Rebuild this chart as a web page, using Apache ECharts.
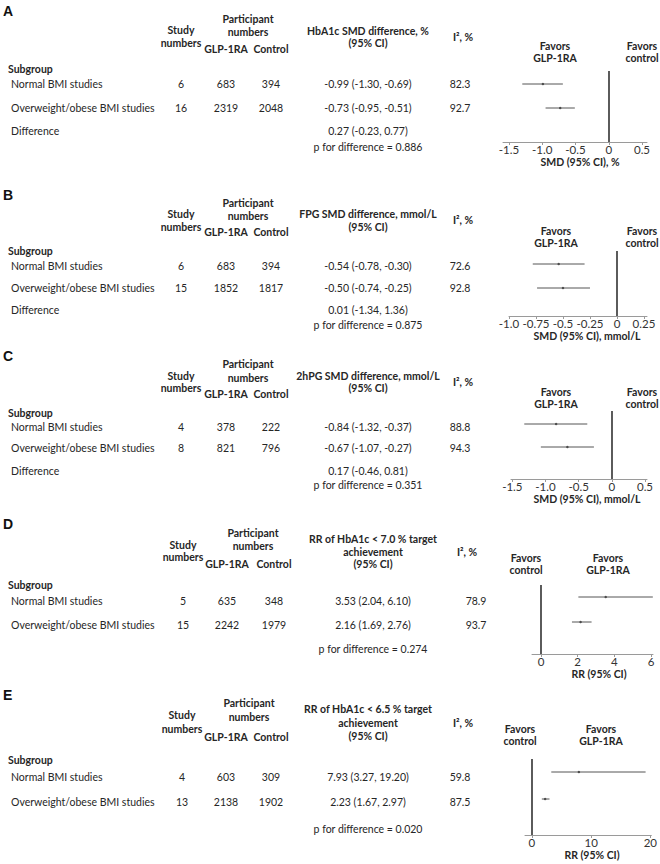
<!DOCTYPE html>
<html><head><meta charset="utf-8">
<script src="https://cdn.jsdelivr.net/npm/echarts@6/dist/echarts.min.js"></script>
<style>html,body{margin:0;padding:0;background:#fff}#c{width:660px;height:864px}</style>
</head><body><div id="c"></div>
<script>
// ---------------- DATA ----------------
const panelLetters = ['A', 'B', 'C', 'D', 'E'];
const subgroupRows = ['Normal BMI studies', 'Overweight/obese BMI studies'];
const outcomeHeaders = [
  ['HbA1c SMD difference, %', '(95% CI)'],
  ['FPG SMD difference, mmol/L', '(95% CI)'],
  ['2hPG SMD difference, mmol/L', '(95% CI)'],
  ['RR of HbA1c < 7.0 % target', 'achievement', '(95% CI)'],
  ['RR of HbA1c < 6.5 % target', 'achievement', '(95% CI)']
];
const studyNumbers = [[6, 16], [6, 15], [4, 8], [5, 15], [4, 13]];
const glpNumbers = [[683, 2319], [683, 1852], [378, 821], [635, 2242], [603, 2138]];
const controlNumbers = [[394, 2048], [394, 1817], [222, 796], [348, 1979], [309, 1902]];
const estimates = [[-0.99, -0.73], [-0.54, -0.50], [-0.84, -0.67], [3.53, 2.16], [7.93, 2.23]];
const lowerCI = [[-1.30, -0.95], [-0.78, -0.74], [-1.32, -1.07], [2.04, 1.69], [3.27, 1.67]];
const upperCI = [[-0.69, -0.51], [-0.30, -0.25], [-0.37, -0.27], [6.10, 2.76], [19.20, 2.97]];
const i2Values = [[82.3, 92.7], [72.6, 92.8], [88.8, 94.3], [78.9, 93.7], [59.8, 87.5]];
const diffEstimate = [0.27, 0.01, 0.17, null, null];
const diffLower = [-0.23, -1.34, -0.46, null, null];
const diffUpper = [0.77, 1.36, 0.81, null, null];
const pValues = ['0.886', '0.875', '0.351', '0.274', '0.020'];
const tickValues = [[-1.5, -1.0, -0.5, 0, 0.5], [-1.0, -0.75, -0.5, -0.25, 0, 0.25], [-1.5, -1.0, -0.5, 0, 0.5], [0, 2, 4, 6], [0, 10, 20]];
const tickLabels = [['-1.5', '-1.0', '-0.5', '0', '0.5'], ['-1.0', '-0.75', '-0.5', '-0.25', '0', '0.25'], ['-1.5', '-1.0', '-0.5', '0', '0.5'], ['0', '2', '4', '6'], ['0', '10', '20']];
const axisTitles = ['SMD (95% CI), %', 'SMD (95% CI), mmol/L', 'SMD (95% CI), mmol/L', 'RR (95% CI)', 'RR (95% CI)'];
const favorsLeft = ['Favors\nGLP-1RA', 'Favors\nGLP-1RA', 'Favors\nGLP-1RA', 'Favors\ncontrol', 'Favors\ncontrol'];
const favorsRight = ['Favors\ncontrol', 'Favors\ncontrol', 'Favors\ncontrol', 'Favors\nGLP-1RA', 'Favors\nGLP-1RA'];

// ---------------- LAYOUT (positions & styles only) ----------------
const colsABC = { study: 181, glp: 226, ctrl: 271, est: 368, i2: 460, i2head: 463, part: 248 };
const colsD = { study: 183, glp: 227, ctrl: 274, est: 373, i2: 476, i2head: 467, part: 253 };
const colsE = { study: 182, glp: 226, ctrl: 271, est: 368, i2: 460, i2head: 463, part: 249 };
const layout = [
  { letterY: 11, partY: [19, 32], studyY: [30, 43], colHeadY: 49, outY: [31, 43], i2Y: 37, subY: 69, rowY: [84, 108], diffY: 131, pY: 147, cols: colsABC,
    grid: { left: 503, width: 144, top: 71, axisY: 142 }, plotRows: [84, 108], min: -1.59, max: 0.575, favY: 46, favX: [555, 642], titleX: 580, titleY: 162 },
  { letterY: 195, partY: [203, 216], studyY: [214, 227], colHeadY: 232, outY: [214, 227], i2Y: 220, subY: 251, rowY: [266, 288], diffY: 310, pY: 325, cols: colsABC,
    grid: { left: 509, width: 138, top: 251, axisY: 316 }, plotRows: [264, 288], min: -1.0, max: 0.278, favY: 231, favX: [556, 642], titleX: 587, titleY: 336 },
  { letterY: 356, partY: [364, 378], studyY: [376, 388], colHeadY: 394, outY: [376, 388], i2Y: 382, subY: 413, rowY: [427, 448], diffY: 471, pY: 485, cols: colsABC,
    grid: { left: 511, width: 136, top: 411, axisY: 479 }, plotRows: [424, 447], min: -1.52, max: 0.53, favY: 392, favX: [556, 642], titleX: 587, titleY: 499 },
  { letterY: 524, partY: [533, 546], studyY: [545, 557], colHeadY: 564, outY: [539, 552, 564], i2Y: 552, subY: 585, rowY: [601, 625], diffY: null, pY: 649, cols: colsD,
    grid: { left: 532, width: 121, top: 585, axisY: 654 }, plotRows: [597, 622], min: -0.49, max: 6.11, favY: 558, favX: [526, 608], titleX: 599, titleY: 674 },
  { letterY: 695, partY: [703, 717], studyY: [715, 729], colHeadY: 737, outY: [709, 723, 736], i2Y: 723, subY: 760, rowY: [777, 802], diffY: null, pY: 829, cols: colsE,
    grid: { left: 525, width: 128, top: 759, axisY: 835 }, plotRows: [772, 799], min: -1.17, max: 20.17, favY: 729, favX: [520, 601], titleX: 592, titleY: 855 }
];

const FAM = 'Lato, "Open Sans", sans-serif';
const TXT = '#262626';
const fs = 10.5;

function txt(x, y, s, opts) {
  opts = opts || {};
  const align = opts.align || 'center';
  return {
    type: 'text', x: x, y: y, silent: true,
    style: {
      text: s, fill: opts.color || TXT,
      font: (opts.bold ? 'bold ' : '') + (opts.size || fs) + 'px ' + (opts.family || FAM),
      align: align, verticalAlign: 'middle', textAlign: align, textVerticalAlign: 'middle',
      lineHeight: opts.lineHeight || 12
    }
  };
}
const f2 = v => v.toFixed(2);
const ciText = (e, l, u) => f2(e) + ' (' + f2(l) + ', ' + f2(u) + ')';

const graphics = [];
const grids = [], xAxes = [], yAxes = [], series = [];

layout.forEach((L, i) => {
  const c = L.cols;
  graphics.push(txt(3, L.letterY, panelLetters[i], { bold: true, size: 14, align: 'left', family: '"Liberation Sans", Arial, sans-serif', color: '#111' }));
  graphics.push(txt(c.part, L.partY[0], 'Participant', { bold: true }));
  graphics.push(txt(c.part, L.partY[1], 'numbers', { bold: true }));
  graphics.push(txt(c.study, L.studyY[0], 'Study', { bold: true }));
  graphics.push(txt(c.study, L.studyY[1], 'numbers', { bold: true }));
  graphics.push(txt(c.glp, L.colHeadY, 'GLP-1RA', { bold: true }));
  graphics.push(txt(c.ctrl, L.colHeadY, 'Control', { bold: true }));
  outcomeHeaders[i].forEach((h, k) => graphics.push(txt(c.est, L.outY[k], h, { bold: true })));
  graphics.push(txt(c.i2head, L.i2Y, 'I², %', { bold: true }));
  graphics.push(txt(8, L.subY, 'Subgroup', { bold: true, align: 'left' }));
  subgroupRows.forEach((r, k) => {
    const y = L.rowY[k];
    graphics.push(txt(11, y, r, { align: 'left' }));
    graphics.push(txt(c.study, y, String(studyNumbers[i][k])));
    graphics.push(txt(c.glp, y, String(glpNumbers[i][k])));
    graphics.push(txt(c.ctrl, y, String(controlNumbers[i][k])));
    graphics.push(txt(c.est, y, ciText(estimates[i][k], lowerCI[i][k], upperCI[i][k])));
    graphics.push(txt(c.i2, y, i2Values[i][k].toFixed(1)));
  });
  if (diffEstimate[i] !== null) {
    graphics.push(txt(11, L.diffY, 'Difference', { align: 'left' }));
    graphics.push(txt(c.est, L.diffY, ciText(diffEstimate[i], diffLower[i], diffUpper[i])));
  }
  graphics.push(txt(c.est, L.pY, 'p for difference = ' + pValues[i]));
  // favors labels
  graphics.push(txt(L.favX[0], L.favY + 5.5, favorsLeft[i], { bold: true }));
  graphics.push(txt(L.favX[1], L.favY + 5.5, favorsRight[i], { bold: true }));
  graphics.push(txt(L.titleX, L.titleY, axisTitles[i], { bold: true, lineHeight: 10 }));

  // plot
  const G = L.grid;
  grids.push({ left: G.left, top: G.top, width: G.width, height: G.axisY - G.top, containLabel: false });
  const unit = L.plotRows[1] - L.plotRows[0];
  const yMin = -(L.plotRows[0] - G.top) / unit;
  const yMax = 1 + (G.axisY - L.plotRows[1]) / unit;
  const ticks = tickValues[i], labs = tickLabels[i];
  xAxes.push({
    type: 'value', gridIndex: i, min: L.min, max: L.max, position: 'bottom',
    splitLine: { show: false },
    axisLine: { show: true, onZero: false, lineStyle: { color: '#9a9a9a', width: 1 } },
    axisTick: { show: true, customValues: ticks, length: 3, lineStyle: { color: '#9a9a9a' } },
    axisLabel: {
      customValues: ticks, margin: 2, fontSize: 11.5, lineHeight: 10, color: '#333', fontFamily: FAM, hideOverlap: false,
      formatter: v => { const j = ticks.findIndex(t => Math.abs(t - v) < 1e-9); return j >= 0 ? labs[j] : ''; }
    }
  });
  yAxes.push({ type: 'value', gridIndex: i, min: yMin, max: yMax, inverse: true, show: false });

  series.push({
    type: 'custom', xAxisIndex: i, yAxisIndex: i, silent: true,
    data: lowerCI[i].map((lo, k) => [lo, upperCI[i][k], k]),
    encode: { x: [0, 1], y: 2 },
    renderItem: (params, api) => {
      const a = api.coord([api.value(0), api.value(2)]);
      const b = api.coord([api.value(1), api.value(2)]);
      return { type: 'line', shape: { x1: a[0], y1: a[1], x2: b[0], y2: b[1] }, style: { stroke: '#555', lineWidth: 1 } };
    }
  });
  series.push({
    type: 'scatter', xAxisIndex: i, yAxisIndex: i, silent: true,
    symbol: 'circle', symbolSize: 2.5, itemStyle: { color: '#333' },
    data: estimates[i].map((e, k) => [e, k]),
    markLine: {
      silent: true, symbol: 'none', label: { show: false },
      lineStyle: { color: '#333', width: 1.6, type: 'solid' },
      data: [{ xAxis: 0 }]
    }
  });
});

const chart = echarts.init(document.getElementById('c'), null, { renderer: 'svg', width: 660, height: 864 });
chart.setOption({
  animation: false,
  backgroundColor: '#fff',
  grid: grids, xAxis: xAxes, yAxis: yAxes, series: series,
  graphic: { elements: graphics }
});
</script>
</body></html>
